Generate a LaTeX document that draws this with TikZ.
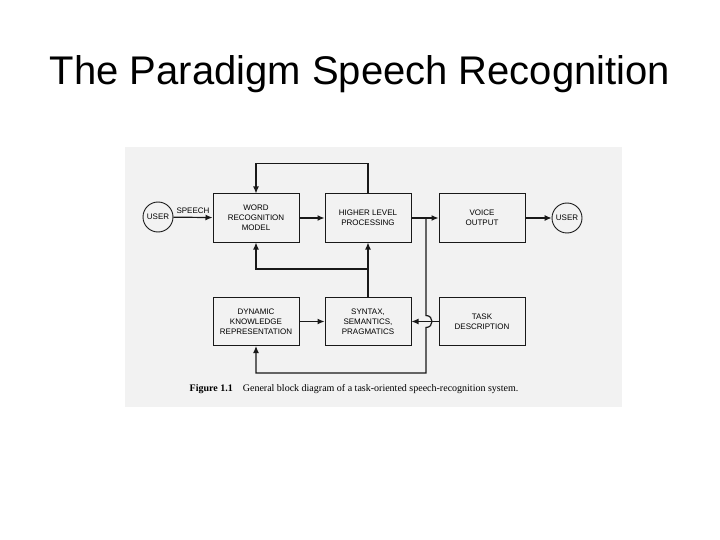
\documentclass[tikz,border=0pt]{standalone}
\usepackage{fontspec}
\setmainfont{Liberation Serif}
\setsansfont{Liberation Sans}
\usetikzlibrary{arrows.meta}

\tikzset{
  block/.style={draw=black!90, line width=1pt, minimum width=86pt, minimum height=48pt,
    inner sep=0pt, align=center, font=\sffamily\fontsize{8}{10}\selectfont},
  person/.style={draw=black!90, line width=.9pt, circle, minimum size=30pt, inner sep=0pt,
    font=\sffamily\fontsize{8}{10}\selectfont},
  flow/.style={line width=1.2pt, draw=black!90, -{Latex[length=7pt,width=6pt]}},
}

\begin{document}
\begin{tikzpicture}[x=1pt,y=-1pt]
        \useasboundingbox (0,0) rectangle (720,540);
        % scanned page
        \fill[black!5] (125,147) rectangle (622,407);

        \node[anchor=base, font=\sffamily\fontsize{40}{44}\selectfont] (title) at (360,85) {The Paradigm Speech Recognition};

        \node[person] (userin) at (158,217) {USER};
        \node[block] (word) at (256,218) {WORD\\RECOGNITION\\MODEL};
        \node[block] (higher) at (368,218) {HIGHER LEVEL\\PROCESSING};
        \node[block] (voice) at (482,218) {VOICE\\OUTPUT};
        \node[person] (userout) at (567,218) {USER};

        \node[block] (dynamic) at (256,321.5) {DYNAMIC\\KNOWLEDGE\\REPRESENTATION};
        \node[block] (syntax) at (368,321.5) {SYNTAX,\\SEMANTICS,\\PRAGMATICS};
        \node[block] (task) at (482,321.5) {TASK\\DESCRIPTION};

        \coordinate (split) at (426,218);
        \coordinate (fork) at (368,269);
        \coordinate (lowturn) at (426,373);

        \draw[flow] (userin) -- node[above, font=\sffamily\fontsize{8}{10}\selectfont] {SPEECH} (word);
        \draw[flow] (word) -- (higher);
        \draw[flow] (higher) -- (voice);
        \draw[flow] (voice) -- (userout);

        \draw[flow] (higher.north) -- ++(0,-30) -| (word.north);
        \draw[flow] (syntax.north) -- (higher.south);
        \draw[flow] (fork) -| (word.south);

        \draw[flow] (dynamic) -- (syntax);
        \draw[flow] (task) -- (syntax);
        \draw[flow] (split) -- (426,315.5) .. controls (434,315.5) and (434,327.5) .. (426,327.5) -- (lowturn) -| (dynamic.south);

        \node[font=\fontsize{10}{12}\selectfont] (caption) at (354,389) {\textbf{Figure 1.1}\quad General block diagram of a task-oriented speech-recognition system.};
\end{tikzpicture}
\end{document}
